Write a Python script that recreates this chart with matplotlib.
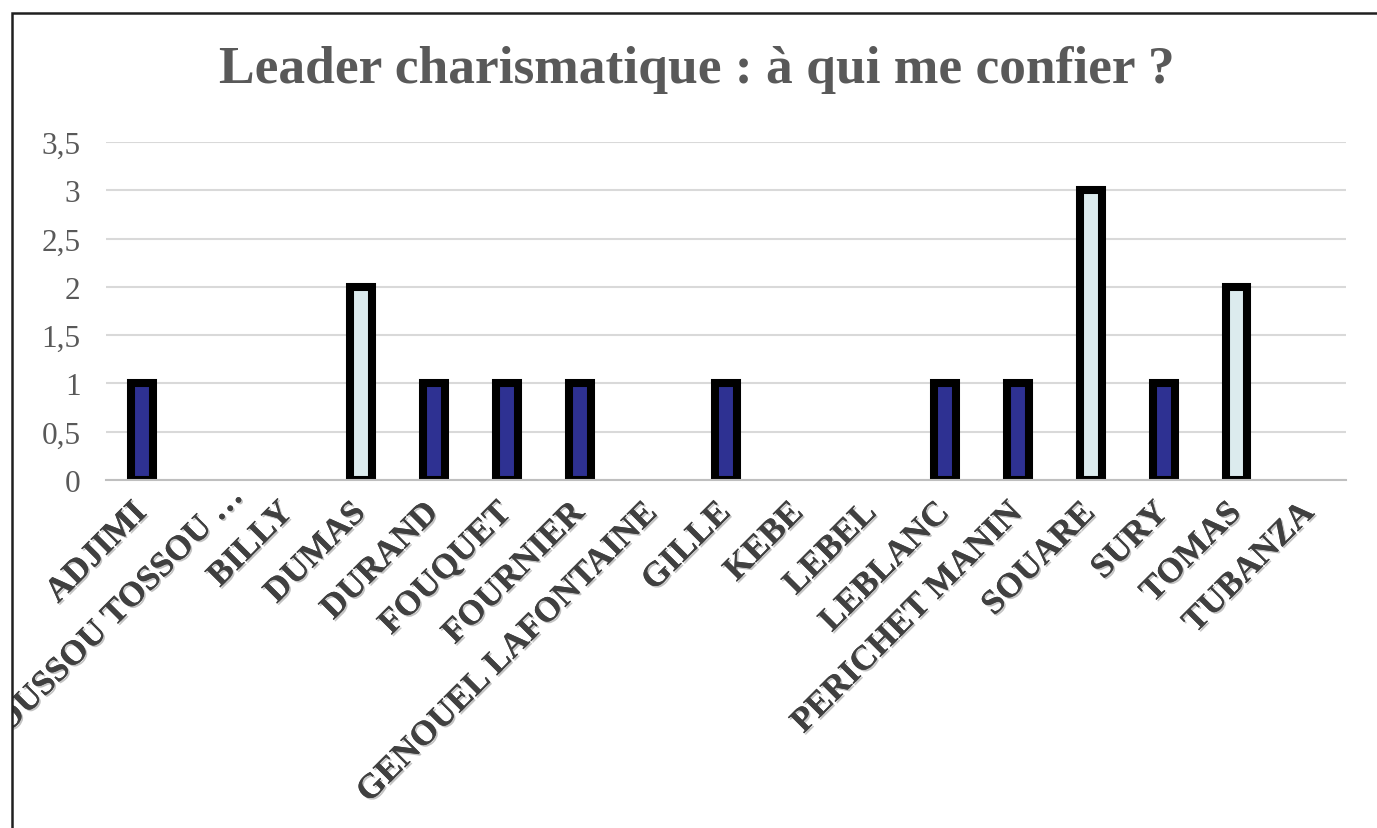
import matplotlib.pyplot as plt
import matplotlib.patheffects as pe
from matplotlib.patches import Rectangle
from matplotlib.transforms import ScaledTranslation

# données
noms = ['ADJIMI', 'BOUSSOU TOSSOU …', 'BILLY', 'DUMAS', 'DURAND', 'FOUQUET',
        'FOURNIER', 'GENOUEL LAFONTAINE', 'GILLE', 'KEBE', 'LEBEL', 'LEBLANC',
        'PERICHET MANIN', 'SOUARE', 'SURY', 'TOMAS', 'TUBANZA']
votes = [1, 0, 0, 2, 1, 1, 1, 0, 1, 0, 0, 1, 1, 3, 1, 2, 0]
yticks = [0, 0.5, 1, 1.5, 2, 2.5, 3, 3.5]
ylabels = ['0', '0,5', '1', '1,5', '2', '2,5', '3', '3,5']

couleurs = ['#2E3192' if v == 1 else '#DCEBEE' for v in votes]
bords = [5.8 if v > 0 else 0 for v in votes]

plt.rcParams['font.family'] = ['Liberation Serif', 'DejaVu Serif']

fig = plt.figure(figsize=(13.77, 8.29), dpi=100)
ax = fig.add_axes([105.5 / 1377, (829 - 481) / 829, (1346 - 105.5) / 1377, (481 - 143) / 829])

x = range(len(noms))
ax.bar(x, votes, width=0.3, color=couleurs, edgecolor='black', linewidth=bords, zorder=3)

ax.set_xlim(-0.5, len(noms) - 0.5)
ax.set_ylim(0, 3.5)
ax.set_yticks(yticks)
ax.set_yticklabels(ylabels, fontsize=22.5, color='#595959')
ax.grid(axis='y', color='#D9D9D9', linewidth=1.5, zorder=0)
ax.tick_params(axis='both', length=0)
ax.tick_params(axis='y', pad=18)
for s in ['top', 'right', 'left']:
    ax.spines[s].set_visible(False)
ax.spines['bottom'].set_color('#BFBFBF')
ax.spines['bottom'].set_linewidth(1.5)
ax.spines['bottom'].set_zorder(4)

ax.set_xticks(list(x))
ax.set_xticklabels(noms, rotation=45, ha='right', va='center', rotation_mode='anchor',
                   fontsize=25, fontweight='bold', color='#404040')
ax.tick_params(axis='x', pad=20)
cadre = Rectangle((12 / 1377, -0.1), 1.2, 1.1 - 14 / 829, transform=fig.transFigure,
                  fill=False, edgecolor='#202020', linewidth=1.8)
fig.patches.append(cadre)
for lab in ax.get_xticklabels():
    lab.set_path_effects([pe.withSimplePatchShadow(offset=(1.2, -1.2), alpha=0.25), pe.Normal()])
    lab.set_clip_path(cadre)

# le nom tronqué est décalé vers le haut à droite comme dans Excel
lab = ax.get_xticklabels()[1]
lab.set_transform(lab.get_transform() + ScaledTranslation(0.24, 0.17, fig.dpi_scale_trans))

fig.text(0.506, 1 - 70 / 829, 'Leader charismatique : à qui me confier ?', ha='center', va='center',
         fontsize=38.5, fontweight='bold', color='#595959')

fig.savefig('out.png', dpi=100)
